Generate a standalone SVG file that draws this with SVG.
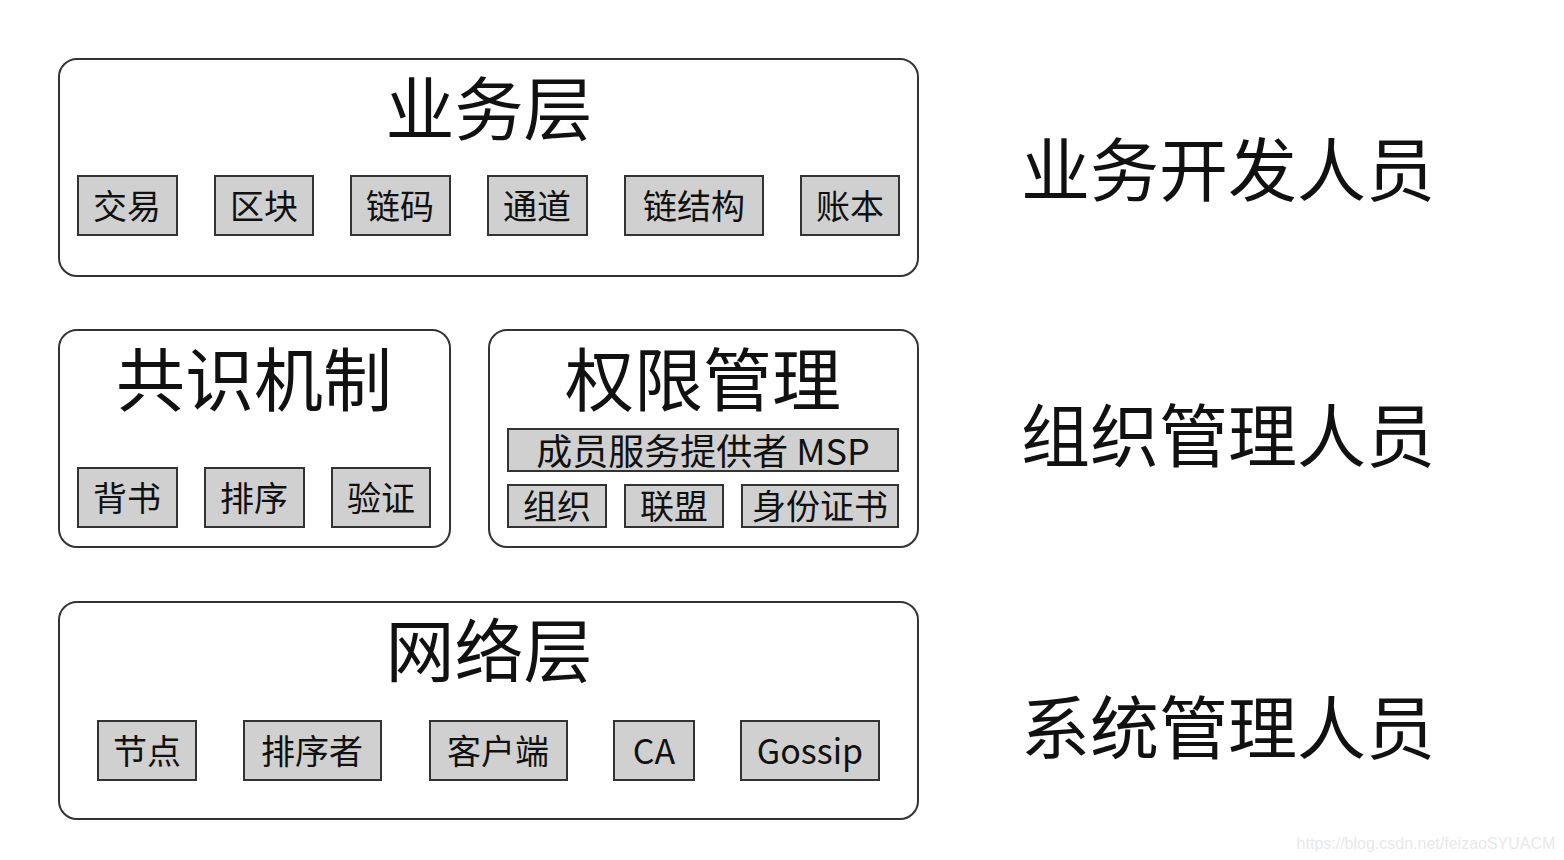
<svg xmlns="http://www.w3.org/2000/svg" width="1564" height="860" viewBox="0 0 1564 860">
<style>
.outer{fill:#fff;stroke:#333;stroke-width:2}
.item{fill:#d0d0d0;stroke:#333;stroke-width:2}
text{font-family:"Noto Sans CJK SC","Liberation Sans",sans-serif;fill:#111;text-anchor:middle;dominant-baseline:central}
.t{font-size:69px}
.s{font-size:34px}
.r{font-size:69px}
.w{font-size:16px;fill:#e8e8e8;font-family:"Liberation Sans",sans-serif}
</style>
<rect width="1564" height="860" fill="#fff"/>
<g id="business-layer">
<rect class="outer" x="59" y="59" width="859" height="217" rx="18"/>
<text class="t" x="489" y="105">业务层</text>
</g>
<g id="n-jiaoyi"><rect class="item" x="78" y="176" width="99" height="59"/><text class="s" x="127" y="204">交易</text></g>
<g id="n-qukuai"><rect class="item" x="215" y="176" width="98" height="59"/><text class="s" x="264" y="204">区块</text></g>
<g id="n-lianma"><rect class="item" x="351" y="176" width="99" height="59"/><text class="s" x="400" y="204">链码</text></g>
<g id="n-tongdao"><rect class="item" x="488" y="176" width="99" height="59"/><text class="s" x="537" y="204">通道</text></g>
<g id="n-lianjiegou"><rect class="item" x="625" y="176" width="138" height="59"/><text class="s" x="694" y="204">链结构</text></g>
<g id="n-zhangben"><rect class="item" x="801" y="176" width="98" height="59"/><text class="s" x="850" y="204">账本</text></g>

<g id="consensus">
<rect class="outer" x="59" y="330" width="391" height="217" rx="18"/>
<text class="t" x="254" y="376">共识机制</text>
</g>
<g id="n-beishu"><rect class="item" x="78" y="468" width="99" height="59"/><text class="s" x="127" y="496">背书</text></g>
<g id="n-paixu"><rect class="item" x="205" y="468" width="99" height="59"/><text class="s" x="254" y="496">排序</text></g>
<g id="n-yanzheng"><rect class="item" x="332" y="468" width="98" height="59"/><text class="s" x="381" y="496">验证</text></g>

<g id="permission">
<rect class="outer" x="489" y="330" width="429" height="217" rx="18"/>
<text class="t" x="703" y="376">权限管理</text>
</g>
<g id="n-msp"><rect class="item" x="508" y="429" width="390" height="42"/><text class="s" x="703" y="449" style="font-size:36px">成员服务提供者 MSP</text></g>
<g id="n-zuzhi"><rect class="item" x="508" y="485" width="98" height="42"/><text class="s" x="557" y="504">组织</text></g>
<g id="n-lianmeng"><rect class="item" x="625" y="485" width="98" height="42"/><text class="s" x="674" y="504">联盟</text></g>
<g id="n-shenfen"><rect class="item" x="742" y="485" width="156" height="42"/><text class="s" x="820" y="504">身份证书</text></g>

<g id="network-layer">
<rect class="outer" x="59" y="602" width="859" height="217" rx="18"/>
<text class="t" x="489" y="647">网络层</text>
</g>
<g id="n-jiedian"><rect class="item" x="98" y="721" width="98" height="59"/><text class="s" x="147" y="749">节点</text></g>
<g id="n-paixuzhe"><rect class="item" x="244" y="721" width="137" height="59"/><text class="s" x="312" y="749">排序者</text></g>
<g id="n-kehuduan"><rect class="item" x="430" y="721" width="137" height="59"/><text class="s" x="498" y="749">客户端</text></g>
<g id="n-ca"><rect class="item" x="614" y="721" width="80" height="59"/><text class="s" x="654" y="749">CA</text></g>
<g id="n-gossip"><rect class="item" x="741" y="721" width="138" height="59"/><text class="s" x="810" y="749">Gossip</text></g>

<g id="role-dev"><text class="r" x="1228" y="166">业务开发人员</text></g>
<g id="role-org"><text class="r" x="1228" y="432">组织管理人员</text></g>
<g id="role-sys"><text class="r" x="1228" y="724">系统管理人员</text></g>

<g id="connectors"></g>
<text class="w" x="1426" y="843">https://blog.csdn.net/feizaoSYUACM</text>
</svg>
